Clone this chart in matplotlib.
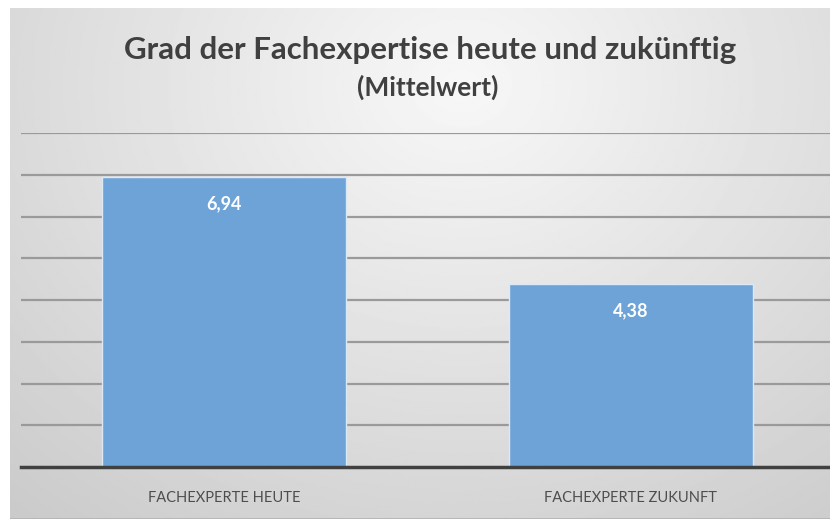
import numpy as np
import matplotlib
matplotlib.use("Agg")
import matplotlib.pyplot as plt

categories = ["FACHEXPERTE HEUTE", "FACHEXPERTE ZUKUNFT"]
values = [6.94, 4.38]
value_labels = ["6,94", "4,38"]

title = "Grad der Fachexpertise heute und zukünftig"
subtitle = "(Mittelwert)"

W, H = 830, 519
plt.rcParams["font.family"] = ["Lato", "DejaVu Sans"]

fig = plt.figure(figsize=(W / 100, H / 100), dpi=100)
fig.patch.set_facecolor("white")

# panel background with a soft radial gradient
bg = fig.add_axes([10 / W, 0, (W - 10) / W, (H - 8) / H])
bg.set_axis_off()
yy, xx = np.mgrid[0:1:300j, 0:1:500j]
r = np.sqrt(((xx - 0.55) / 0.75) ** 2 + ((yy - 0.15) / 1.0) ** 2)
shade = 0.97 - 0.19 * np.clip(r, 0, 1.2) / 1.2
bg.imshow(shade, cmap="gray", vmin=0, vmax=1, aspect="auto", extent=[0, 1, 1, 0])
bg.axhline(1, color="#b4b4b4", lw=2)
bg.set_xlim(0, 1)
bg.set_ylim(1, 0)

# plot area
left, right = 21, 834
top, bottom = 133, 467
ax = fig.add_axes([left / W, 1 - bottom / H, (right - left) / W, (bottom - top) / H])
ax.patch.set_alpha(0)

x = np.arange(len(categories))
bars = ax.bar(x, values, width=0.6, color="#6ea3d7", edgecolor="#dbe8f5", linewidth=1, zorder=3)
ax.set_xlim(-0.5, 1.5)
ax.set_ylim(0, 8)
ax.set_yticks(range(1, 9))
ax.yaxis.grid(True, color="#9a9a9a", linewidth=1.6, zorder=1)
ax.tick_params(axis="y", left=False, labelleft=False)
ax.tick_params(axis="x", bottom=False, pad=14, labelsize=10.5, labelcolor="#4d4d4d")
ax.set_xticks(x)
ax.set_xticklabels(categories, fontweight="normal")
for s in ["top", "right", "left"]:
    ax.spines[s].set_visible(False)
ax.spines["bottom"].set_color("#404040")
ax.spines["bottom"].set_linewidth(2.5)
ax.spines["bottom"].set_zorder(4)

for bar, lab in zip(bars, value_labels):
    ax.annotate(lab, (bar.get_x() + bar.get_width() / 2, bar.get_height()),
                xytext=(0, -19), textcoords="offset points", ha="center", va="center",
                color="white", fontsize=13, fontweight="bold", zorder=5)

fig.text(430 / W, 1 - 50 / H, title, ha="center", va="center",
         fontsize=22.5, fontweight="bold", color="#404040")
fig.text(428 / W, 1 - 87 / H, subtitle, ha="center", va="center",
         fontsize=19, fontweight="bold", color="#404040")

fig.savefig("out.png", dpi=100)
